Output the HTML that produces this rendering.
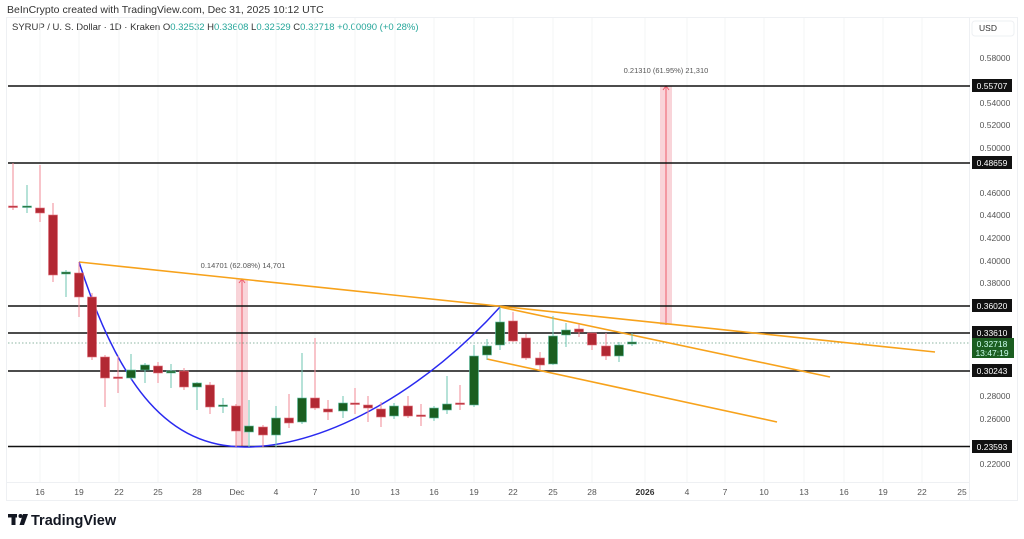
<!DOCTYPE html>
<html><head><meta charset="utf-8"><style>
html,body{margin:0;padding:0;background:#fff;width:1024px;height:539px;overflow:hidden}
svg{display:block;font-family:"Liberation Sans",sans-serif}
</style></head><body>
<svg width="1024" height="539" viewBox="0 0 1024 539">
<rect x="0" y="0" width="1024" height="539" fill="#fff"/>
<text x="7" y="13" font-size="10.5" fill="#333">BeInCrypto created with TradingView.com, Dec 31, 2025 10:12 UTC</text>
<rect x="6.5" y="17.5" width="1011" height="483" fill="none" stroke="#eef0f3"/>
<text x="12" y="30" font-size="9.5" fill="#333">SYRUP / U. S. Dollar · 1D · Kraken  <tspan>O</tspan><tspan fill="#26a69a">0.32532</tspan> H<tspan fill="#26a69a">0.33608</tspan> L<tspan fill="#26a69a">0.32529</tspan> C<tspan fill="#26a69a">0.32718</tspan> <tspan fill="#26a69a">+0.00090 (+0.28%)</tspan></text>
<!-- grid -->
<g stroke="#f3f4f6" stroke-width="1">
<line x1="40" y1="18" x2="40" y2="482"/><line x1="79" y1="18" x2="79" y2="482"/><line x1="119" y1="18" x2="119" y2="482"/><line x1="158" y1="18" x2="158" y2="482"/><line x1="197" y1="18" x2="197" y2="482"/><line x1="237" y1="18" x2="237" y2="482"/><line x1="276" y1="18" x2="276" y2="482"/><line x1="315" y1="18" x2="315" y2="482"/><line x1="355" y1="18" x2="355" y2="482"/><line x1="395" y1="18" x2="395" y2="482"/><line x1="434" y1="18" x2="434" y2="482"/><line x1="474" y1="18" x2="474" y2="482"/><line x1="513" y1="18" x2="513" y2="482"/><line x1="553" y1="18" x2="553" y2="482"/><line x1="592" y1="18" x2="592" y2="482"/><line x1="645" y1="18" x2="645" y2="482"/><line x1="687" y1="18" x2="687" y2="482"/><line x1="725" y1="18" x2="725" y2="482"/><line x1="764" y1="18" x2="764" y2="482"/><line x1="804" y1="18" x2="804" y2="482"/><line x1="844" y1="18" x2="844" y2="482"/><line x1="883" y1="18" x2="883" y2="482"/><line x1="922" y1="18" x2="922" y2="482"/>
</g>
<line x1="969.5" y1="18" x2="969.5" y2="500" stroke="#eef0f3"/>
<!-- measure boxes -->
<rect x="236" y="279" width="12" height="168" fill="#f8c9cf" opacity="0.8"/>
<line x1="242" y1="280" x2="242" y2="447" stroke="#ef5b6b" stroke-width="1"/>
<path d="M239 283 L242 279 L245 283" fill="none" stroke="#ef5b6b"/>
<text x="243" y="268" font-size="7.5" fill="#555" text-anchor="middle">0.14701 (62.08%) 14,701</text>
<rect x="660" y="86" width="12" height="239" fill="#f8c9cf" opacity="0.8"/>
<line x1="666" y1="87" x2="666" y2="325" stroke="#ef5b6b" stroke-width="1"/>
<path d="M663 90 L666 86 L669 90" fill="none" stroke="#ef5b6b"/>
<text x="666" y="73" font-size="7.5" fill="#555" text-anchor="middle">0.21310 (61.95%) 21,310</text>
<!-- horizontal levels -->
<g stroke="#111" stroke-width="1.6">
<line x1="8" y1="86" x2="970" y2="86"/><line x1="8" y1="163" x2="970" y2="163"/><line x1="8" y1="306" x2="970" y2="306"/><line x1="8" y1="333" x2="970" y2="333"/><line x1="8" y1="371" x2="970" y2="371"/><line x1="8" y1="446.5" x2="970" y2="446.5"/>
</g>
<line x1="8" y1="343" x2="970" y2="343" stroke="#6a9f85" stroke-width="0.8" stroke-dasharray="1.5,2"/>
<!-- trend lines -->
<g stroke="#f7a21b" stroke-width="1.6" fill="none">
<line x1="79" y1="262" x2="935" y2="352"/>
<line x1="500" y1="307" x2="830" y2="377"/>
<line x1="487" y1="359" x2="777" y2="422"/>
</g>
<path d="M79 262 C120 390 170 447 245 447 C330 447 430 385 500 307" fill="none" stroke="#2a2af0" stroke-width="1.5"/>
<!-- candles -->
<g id="c">
<g stroke="#f28a96" stroke-width="1">
<line x1="13" y1="163" x2="13" y2="210"/><line x1="40" y1="165" x2="40" y2="222"/><line x1="53" y1="203" x2="53" y2="282"/><line x1="79" y1="262" x2="79" y2="317"/><line x1="92" y1="293" x2="92" y2="360"/><line x1="105" y1="355" x2="105" y2="407"/><line x1="118" y1="356" x2="118" y2="393"/><line x1="158" y1="362" x2="158" y2="383"/><line x1="184" y1="368" x2="184" y2="390"/><line x1="210" y1="382" x2="210" y2="414"/><line x1="236" y1="404" x2="236" y2="447"/><line x1="263" y1="425" x2="263" y2="447"/><line x1="289" y1="394" x2="289" y2="428"/><line x1="315" y1="338" x2="315" y2="410"/><line x1="328" y1="400" x2="328" y2="420"/><line x1="355" y1="388" x2="355" y2="414"/><line x1="368" y1="396" x2="368" y2="422"/><line x1="381" y1="402" x2="381" y2="427"/><line x1="408" y1="396" x2="408" y2="418"/><line x1="421" y1="404" x2="421" y2="426"/><line x1="460" y1="385" x2="460" y2="410"/><line x1="513" y1="312" x2="513" y2="342"/><line x1="526" y1="334" x2="526" y2="360"/><line x1="540" y1="352" x2="540" y2="370"/><line x1="579" y1="324" x2="579" y2="337"/><line x1="592" y1="333" x2="592" y2="350"/><line x1="606" y1="333" x2="606" y2="360"/>
</g>
<g stroke="#6cc5b0" stroke-width="1">
<line x1="27" y1="185" x2="27" y2="213"/><line x1="66" y1="270" x2="66" y2="297"/><line x1="131" y1="354" x2="131" y2="380"/><line x1="145" y1="363" x2="145" y2="383"/><line x1="171" y1="364" x2="171" y2="388"/><line x1="197" y1="382" x2="197" y2="410"/><line x1="223" y1="398" x2="223" y2="413"/><line x1="249" y1="400" x2="249" y2="447"/><line x1="276" y1="406" x2="276" y2="447"/><line x1="302" y1="353" x2="302" y2="424"/><line x1="343" y1="396" x2="343" y2="418"/><line x1="394" y1="403" x2="394" y2="419"/><line x1="434" y1="406" x2="434" y2="421"/><line x1="447" y1="376" x2="447" y2="414"/><line x1="474" y1="345" x2="474" y2="407"/><line x1="487" y1="339" x2="487" y2="360"/><line x1="500" y1="307" x2="500" y2="350"/><line x1="553" y1="316" x2="553" y2="365"/><line x1="566" y1="323" x2="566" y2="347"/><line x1="619" y1="342" x2="619" y2="362"/><line x1="632" y1="333" x2="632" y2="346"/>
</g>
<g fill="#b22833" stroke="#e0707c" stroke-width="0.6">
<rect x="8.5" y="206" width="9" height="1.5"/><rect x="35.5" y="208" width="9" height="5"/><rect x="48.5" y="215" width="9" height="60"/><rect x="74.5" y="273" width="9" height="24"/><rect x="87.5" y="297" width="9" height="60"/><rect x="100.5" y="357" width="9" height="21"/><rect x="113.5" y="377" width="9" height="1.5"/><rect x="153.5" y="366" width="9" height="7"/><rect x="179.5" y="371" width="9" height="16"/><rect x="205.5" y="385" width="9" height="22"/><rect x="231.5" y="406" width="9" height="25"/><rect x="258.5" y="427" width="9" height="8"/><rect x="284.5" y="418" width="9" height="5"/><rect x="310.5" y="398" width="9" height="10"/><rect x="323.5" y="409" width="9" height="3"/><rect x="350.5" y="403" width="9" height="1.5"/><rect x="363.5" y="405" width="9" height="3"/><rect x="376.5" y="409" width="9" height="8"/><rect x="403.5" y="406" width="9" height="10"/><rect x="416.5" y="415" width="9" height="1.5"/><rect x="455.5" y="403" width="9" height="1.5"/><rect x="508.5" y="321" width="9" height="20"/><rect x="521.5" y="338" width="9" height="20"/><rect x="535.5" y="358" width="9" height="7"/><rect x="574.5" y="329" width="9" height="3"/><rect x="587.5" y="333" width="9" height="12"/><rect x="601.5" y="346" width="9" height="10"/>
</g>
<g fill="#1b5e20" stroke="#5fbfa5" stroke-width="0.6">
<rect x="22.5" y="206" width="9" height="1.5"/><rect x="61.5" y="272" width="9" height="2"/><rect x="126.5" y="370" width="9" height="8"/><rect x="140.5" y="365" width="9" height="5"/><rect x="166.5" y="371" width="9" height="2"/><rect x="192.5" y="383" width="9" height="4"/><rect x="218.5" y="405" width="9" height="1.5"/><rect x="244.5" y="426" width="9" height="6"/><rect x="271.5" y="418" width="9" height="17"/><rect x="297.5" y="398" width="9" height="24"/><rect x="338.5" y="403" width="9" height="8"/><rect x="389.5" y="406" width="9" height="10"/><rect x="429.5" y="408" width="9" height="10"/><rect x="442.5" y="404" width="9" height="6"/><rect x="469.5" y="356" width="9" height="49"/><rect x="482.5" y="346" width="9" height="9"/><rect x="495.5" y="322" width="9" height="23"/><rect x="548.5" y="336" width="9" height="28"/><rect x="561.5" y="330" width="9" height="5"/><rect x="614.5" y="345" width="9" height="11"/><rect x="627.5" y="342" width="9" height="2"/>
</g>
</g>
<!-- right axis -->
<g font-size="8.5" fill="#555" text-anchor="middle">
<rect x="972" y="21" width="42" height="15" rx="3" fill="#fff" stroke="#eef0f3"/>
<text x="988" y="31" fill="#333">USD</text>
<text x="995" y="61">0.58000</text><text x="995" y="106">0.54000</text><text x="995" y="128">0.52000</text><text x="995" y="151">0.50000</text><text x="995" y="196">0.46000</text><text x="995" y="218">0.44000</text><text x="995" y="241">0.42000</text><text x="995" y="264">0.40000</text><text x="995" y="286">0.38000</text><text x="995" y="399">0.28000</text><text x="995" y="422">0.26000</text><text x="995" y="467">0.22000</text>
</g>
<g font-size="8.5" text-anchor="middle">
<rect x="972" y="79" width="40" height="13" fill="#111"/><text x="992" y="89" fill="#fff">0.55707</text>
<rect x="972" y="156" width="40" height="13" fill="#111"/><text x="992" y="166" fill="#fff">0.48659</text>
<rect x="972" y="299" width="40" height="13" fill="#111"/><text x="992" y="309" fill="#fff">0.36020</text>
<rect x="972" y="326" width="40" height="13" fill="#111"/><text x="992" y="336" fill="#fff">0.33610</text>
<rect x="972" y="338" width="42" height="20" fill="#1b5e20"/><text x="992" y="347" fill="#cfe">0.32718</text><text x="992" y="356" fill="#cfe">13:47:19</text>
<rect x="972" y="364" width="40" height="13" fill="#111"/><text x="992" y="374" fill="#fff">0.30243</text>
<rect x="972" y="440" width="40" height="13" fill="#111"/><text x="992" y="450" fill="#fff">0.23593</text>
</g>
<!-- date axis -->
<line x1="6" y1="482.5" x2="970" y2="482.5" stroke="#eef0f3"/>
<g font-size="8.5" fill="#555" text-anchor="middle">
<text x="40" y="495">16</text><text x="79" y="495">19</text><text x="119" y="495">22</text><text x="158" y="495">25</text><text x="197" y="495">28</text><text x="237" y="495">Dec</text><text x="276" y="495">4</text><text x="315" y="495">7</text><text x="355" y="495">10</text><text x="395" y="495">13</text><text x="434" y="495">16</text><text x="474" y="495">19</text><text x="513" y="495">22</text><text x="553" y="495">25</text><text x="592" y="495">28</text><text x="645" y="495" font-weight="bold" fill="#333">2026</text><text x="687" y="495">4</text><text x="725" y="495">7</text><text x="764" y="495">10</text><text x="804" y="495">13</text><text x="844" y="495">16</text><text x="883" y="495">19</text><text x="922" y="495">22</text><text x="962" y="495">25</text>
</g>
<!-- logo -->
<g fill="#131722">
<rect x="8" y="514" width="9" height="3.5"/><rect x="11.5" y="514" width="4" height="11"/>
<circle cx="20.5" cy="516" r="2"/>
<path d="M23 514 L28 514 L24 525 L19.5 525 Z"/>
</g>
<text x="31" y="525" font-size="14.5" font-weight="bold" fill="#131722">TradingView</text>
</svg>
</body></html>
